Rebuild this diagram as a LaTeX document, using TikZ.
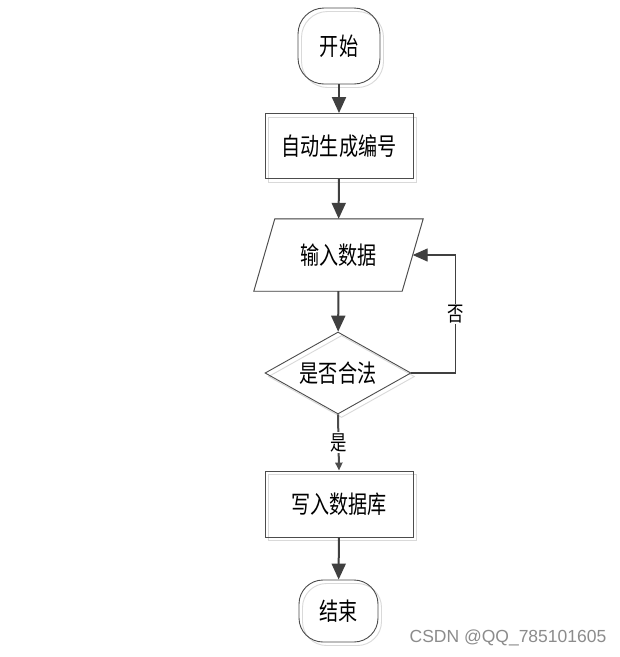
\documentclass[tikz,border=0pt]{standalone}
\usepackage{fontspec}
\usepackage{graphicx}
\newfontfamily\cjk{Noto Sans CJK SC}
\newfontfamily\wmfont{Liberation Sans}
\usetikzlibrary{shapes.geometric,arrows.meta,shadows}
\newcommand{\zt}[1]{\scalebox{0.78}[1]{#1}}
\begin{document}
\begin{tikzpicture}[x=1pt,y=-1pt,
  shp/.style={draw=black!70, line width=0.9pt, inner sep=0pt,
    font=\cjk\fontsize{24.5}{24.5}\selectfont,
    general shadow={shadow xshift=3.5pt, shadow yshift=-3.5pt, draw=black!15}},
  term/.style={shp, rectangle, rounded corners=26pt, minimum width=82pt, minimum height=76pt},
  proc/.style={shp, rectangle, minimum width=148pt, minimum height=65pt},
  dec/.style={shp, diamond, aspect=1.78, minimum width=146pt, minimum height=82pt},
  plain/.style={inner sep=0pt, font=\cjk\fontsize{24.5}{24.5}\selectfont, minimum width=148pt, minimum height=72pt},
  flow/.style={draw=black!75, line width=2pt, -{Triangle[length=16pt,width=14pt]}},
  flowsmall/.style={draw=black!70, line width=2pt, -{Triangle[length=8pt,width=7pt]}},
  back/.style={draw=black!75, line width=1.3pt, -{Triangle[length=15pt,width=13pt]}},
  lbl/.style={fill=white, inner sep=1pt, font=\cjk\fontsize{21}{21}\selectfont}
]
\fill[white] (0,0) rectangle (620,657);
\useasboundingbox (0,0) rectangle (620,657);

\node[term] (start) at (339,46) {\zt{开始}};
\node[proc] (auto) at (339,146) {\zt{自动生成编号}};
\node[plain] (in) at (338.5,255) {\zt{输入数据}};
\draw[black!15, line width=0.9pt, xshift=3.5pt, yshift=-3.5pt]
  ([xshift=-10.5pt]in.south west) -- ([xshift=10.5pt]in.north west) --
  ([xshift=10.5pt]in.north east) -- ([xshift=-10.5pt]in.south east) -- cycle;
\draw[black!70, line width=0.9pt]
  ([xshift=-10.5pt]in.south west) -- ([xshift=10.5pt]in.north west) --
  ([xshift=10.5pt]in.north east) -- ([xshift=-10.5pt]in.south east) -- cycle;
\node[dec] (dec) at (338,373) {\zt{是否合法}};
\node[proc, minimum height=66pt] (write) at (339,504) {\zt{写入数据库}};
\node[term, rounded corners=24pt, minimum width=79pt, minimum height=62pt] (end) at (338.5,611) {\zt{结束}};

\draw[flow] (start) -- (auto);
\draw[flow] (auto) -- (in);
\draw[flow] (in) -- (dec);
\draw[back] (dec.east) -- ++(44,0) |- node[pos=0.25, lbl] {\zt{否}} (in.east);
\draw[flowsmall] (dec.south) -- node[lbl] {\zt{是}} (write.north);
\draw[flow] (write) -- (end);

\node[text=black!45, font=\wmfont\fontsize{17.5}{17.5}\selectfont] (wm) at (508,638) {CSDN @QQ\_785101605};
\end{tikzpicture}
\end{document}
